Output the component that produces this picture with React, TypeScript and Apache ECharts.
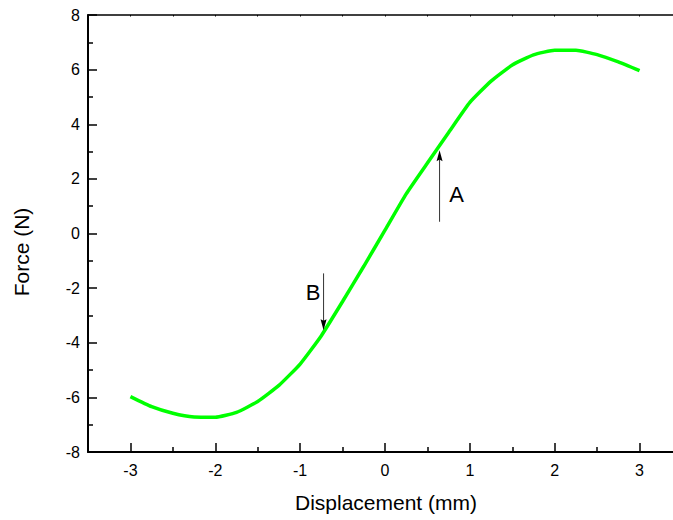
import React, { useEffect, useRef } from "react";
import * as echarts from "echarts";

// Force–displacement curve
const displacement = [-3, -2.75, -2.5, -2.25, -2, -1.75, -1.5, -1.25, -1, -0.75, -0.5, -0.25, 0, 0.25, 0.5, 0.75, 1, 1.25, 1.5, 1.75, 2, 2.25, 2.5, 2.75, 3];
const force = [-5.97, -6.34, -6.58, -6.72, -6.73, -6.55, -6.15, -5.56, -4.78, -3.74, -2.49, -1.2, 0.12, 1.45, 2.58, 3.7, 4.8, 5.58, 6.17, 6.54, 6.71, 6.71, 6.55, 6.28, 5.96];

// Annotation arrows: x position, start force, end (tip) force
const arrowX = [0.643, -0.724];
const arrowFrom = [0.43, -1.46];
const arrowTo = [3.05, -3.54];

// Annotation labels
const labelText = ["A", "B"];
const labelX = [0.845, -0.848];
const labelY = [1.41, -2.15];

const FONT = "'Liberation Sans', Arial, sans-serif";

export default function App() {
  const ref = useRef<HTMLDivElement>(null);

  useEffect(() => {
    if (!ref.current) return;
    const chart = echarts.init(ref.current, undefined, { renderer: "svg" });

    const curve = displacement.map((x, i) => [x, force[i]]);
    const arrows = arrowX.map((x, i) => [x, arrowFrom[i], arrowTo[i]]);
    const labels = labelX.map((x, i) => [x, labelY[i], labelText[i]]);

    chart.setOption({
      animation: false,
      backgroundColor: "#ffffff",
      grid: { left: 88, right: 18, top: 15, bottom: 68 },
      xAxis: [
        {
          type: "value",
          min: -3.5,
          max: 3.5,
          splitNumber: 7,
          axisLine: { show: true, onZero: false, lineStyle: { color: "#000", width: 2 } },
          axisTick: { show: true, inside: true, length: 9, lineStyle: { color: "#000", width: 1.5 } },
          minorTick: { show: true, splitNumber: 2, length: 5, lineStyle: { color: "#000", width: 1.5 } },
          axisLabel: {
            color: "#000",
            fontSize: 16,
            fontFamily: FONT,
            margin: 10,
            formatter: (v: number) => (Number.isInteger(v) ? String(v) : ""),
          },
          splitLine: { show: false },
        },
        {
          type: "value",
          position: "top",
          min: -3.5,
          max: 3.5,
          interval: 0.5,
          axisLine: { show: true, onZero: false, lineStyle: { color: "#000", width: 1.5 } },
          axisTick: { show: true, inside: true, length: 1.5, lineStyle: { color: "#000", width: 1 } },
          axisLabel: { show: false },
          splitLine: { show: false },
        },
      ],
      yAxis: {
        type: "value",
        min: -8,
        max: 8,
        interval: 2,
        axisLine: { show: true, onZero: false, lineStyle: { color: "#000", width: 2 } },
        axisTick: { show: true, inside: true, length: 9, lineStyle: { color: "#000", width: 1.5 } },
        minorTick: { show: true, splitNumber: 2, length: 5, lineStyle: { color: "#000", width: 1.5 } },
        axisLabel: { color: "#000", fontSize: 16, fontFamily: FONT, margin: 8 },
        splitLine: { show: false },
      },
      series: [
        {
          type: "line",
          data: curve,
          symbol: "none",
          smooth: 0.15,
          lineStyle: { color: "#00ff00", width: 3.5 },
          itemStyle: { color: "#00ff00" },
        },
        {
          type: "custom",
          data: arrows,
          renderItem: (params: any, api: any) => {
            const x = api.value(0);
            const p0 = api.coord([x, api.value(1)]);
            const p1 = api.coord([x, api.value(2)]);
            const dir = p1[1] > p0[1] ? 1 : -1;
            const head = 11;
            const half = 3;
            return {
              type: "group",
              children: [
                {
                  type: "line",
                  shape: { x1: p0[0], y1: p0[1], x2: p1[0], y2: p1[1] - dir * head * 0.6 },
                  style: { stroke: "#333", lineWidth: 1 },
                },
                {
                  type: "polygon",
                  shape: {
                    points: [
                      [p1[0], p1[1]],
                      [p1[0] - half, p1[1] - dir * head],
                      [p1[0], p1[1] - dir * head * 0.85],
                      [p1[0] + half, p1[1] - dir * head],
                    ],
                  },
                  style: { fill: "#000" },
                },
              ],
            };
          },
          z: 5,
        },
        {
          type: "custom",
          data: labels,
          renderItem: (params: any, api: any) => {
            const p = api.coord([api.value(0), api.value(1)]);
            return {
              type: "text",
              x: p[0],
              y: p[1],
              style: {
                text: labelText[params.dataIndex],
                fill: "#000",
                fontSize: 22,
                fontFamily: FONT,
                align: "center",
                verticalAlign: "middle",
              },
            };
          },
          z: 5,
        },
      ],
      graphic: [
        {
          type: "text",
          x: 386,
          y: 502,
          style: {
            text: "Displacement (mm)",
            fill: "#000",
            fontSize: 21,
            fontFamily: FONT,
            align: "center",
            verticalAlign: "middle",
          },
        },
        {
          type: "text",
          x: 21,
          y: 252,
          rotation: Math.PI / 2,
          style: {
            text: "Force (N)",
            fill: "#000",
            fontSize: 21,
            fontFamily: FONT,
            align: "center",
            verticalAlign: "middle",
          },
        },
      ],
    });

    return () => chart.dispose();
  }, []);

  return (
    <div
      style={{ position: "fixed", left: 0, top: 0, width: 673, height: 520, overflow: "hidden", background: "#fff" }}
    >
      <div ref={ref} style={{ width: 700, height: 520 }} />
    </div>
  );
}
